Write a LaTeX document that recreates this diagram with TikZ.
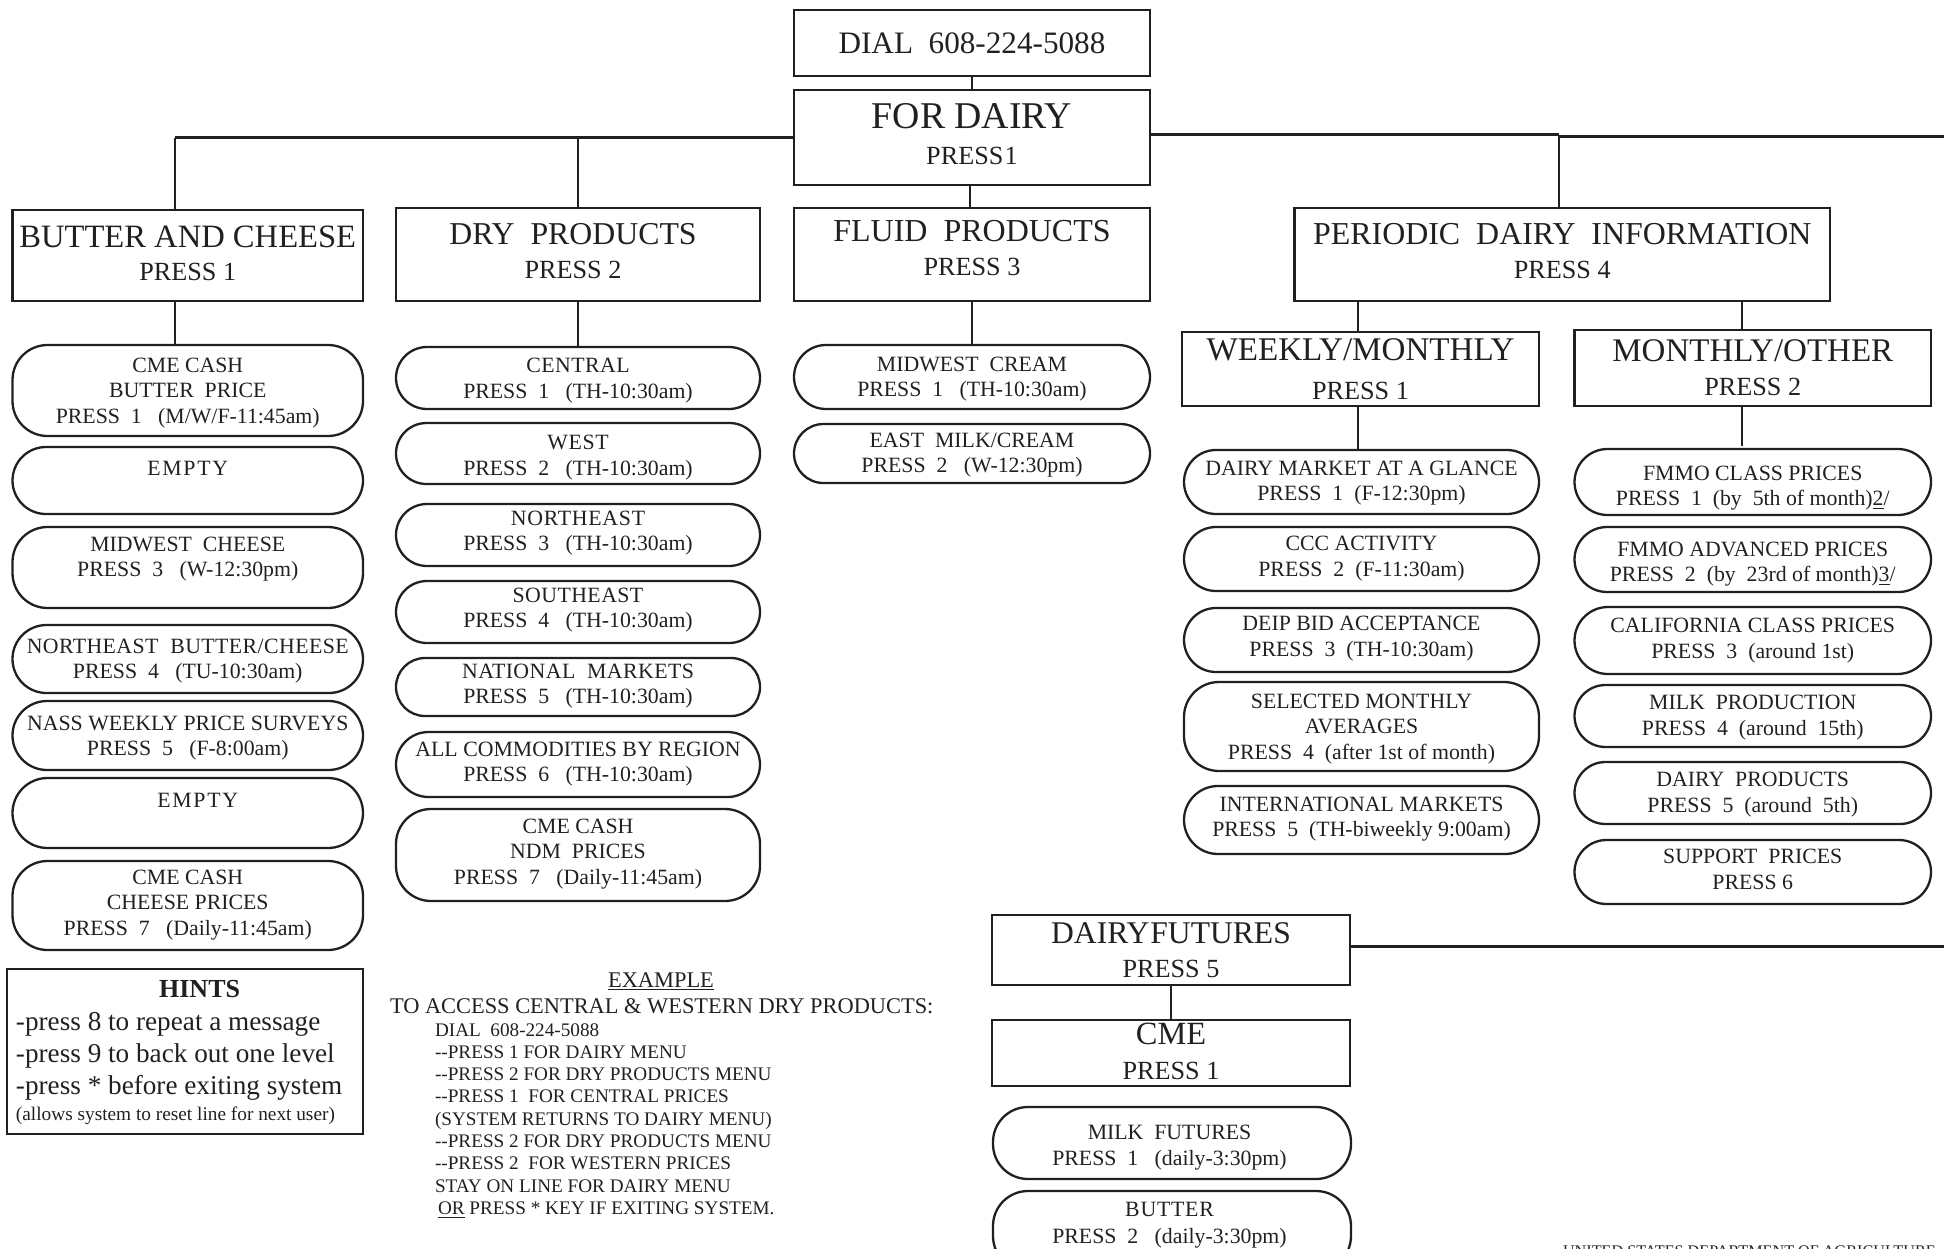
\documentclass[tikz,border=0pt]{standalone}
\usepackage{fontspec}
\setmainfont{Liberation Serif}
\usepackage{array}
\definecolor{ink}{HTML}{231F20}
\newcommand\fs[2]{\fontsize{#1}{#1}\selectfont #2}
\newcommand\pl[1]{\fontsize{#1}{#1}\selectfont}
\newcommand\trk[2]{{\addfontfeature{LetterSpace=#1}#2}}
% style, name, x1, y1, x2, y2, first baseline, leading(pt), text
\newcommand\bx[9]{%
  \pgfmathsetmacro\bxw{(#5-#3)*0.5}%
  \pgfmathsetmacro\bxh{(#6-#4)*0.5}%
  \pgfmathsetmacro\bxr{min(\bxh/2,17.5)}%
  \pgfmathsetmacro\bxcx{(#3+#5)/2+1}%
  \pgfmathsetmacro\bxcy{(#4+#6)/2+1}%
  \pgfmathsetmacro\bxdy{(\bxcy-1-#7)*0.5}%
  \node[#1,minimum width=\bxw pt,minimum height=\bxh pt] (#2) at (\bxcx,\bxcy)
   {\raisebox{\bxdy pt}[0pt][0pt]{\makebox[0pt]{%
     \pgfmathsetlengthmacro\bxa{#8*0.7}\pgfmathsetlengthmacro\bxb{#8*0.3}%
     \setbox\strutbox\hbox{\vrule height \bxa depth \bxb width 0pt}%
     \begin{tabular}[t]{@{}c@{}}#9\end{tabular}}}};%
}
\tikzset{
  x=0.5pt,y=-0.5pt,
  boxed/.style={draw=ink,line width=1.35pt,inner sep=0pt,outer sep=0pt,text=ink,font=\pl{13.1}},
  pill/.style={draw=ink,line width=1.15pt,rounded corners=\bxr pt,inner sep=0pt,outer sep=0pt,text=ink,font=\pl{10.9}},
  conn/.style={draw=ink,line width=1pt},
  trunk/.style={draw=ink,line width=1.3pt},
  free/.style={inner sep=0pt,outer sep=0pt,text=ink},
}
\begin{document}
\begin{tikzpicture}
\useasboundingbox (0,0) rectangle (1944,1248);
\clip (0,0) rectangle (1944,1248);

% top
\bx{boxed}{dial}{793}{9}{1149}{75}{52}{16}{\fs{15.6}{DIAL~~608-224-5088}}
\bx{boxed}{fordairy}{793}{89}{1149}{184}{127}{18}{\fs{18.9}{FOR DAIRY}\\{\spaceskip=.05em PRESS 1}}

% level 1
\bx{boxed}{butter}{11.5}{209}{362}{300}{246}{16.5}{\fs{16.3}{BUTTER AND CHEESE}\\PRESS 1}
\bx{boxed}{dry}{395}{207}{759}{300}{243}{17}{\fs{15.9}{DRY~~PRODUCTS}\hspace*{5pt}\\PRESS 2\hspace*{5pt}}
\bx{boxed}{fluid}{793}{207}{1149}{300}{240}{17}{\fs{16}{FLUID~~PRODUCTS}\\PRESS 3}
\bx{boxed}{periodic}{1293.5}{207}{1829}{300}{243}{17}{\fs{15.96}{PERIODIC~~DAIRY~~INFORMATION}\\PRESS 4}
\bx{boxed}{weekly}{1181}{331}{1538}{405}{359}{19.5}{\fs{16.55}{WEEKLY/MONTHLY}\\PRESS 1}
\bx{boxed}{monthly}{1573.5}{329}{1930}{405}{360}{17}{\fs{16.5}{MONTHLY/OTHER}\\PRESS 2}
\bx{boxed}{futures}{991}{914}{1349}{984}{942}{17}{\fs{15.8}{{\spaceskip=.03em DAIRY FUTURES}}\\PRESS 5}
\bx{boxed}{cme}{991}{1019}{1349}{1085}{1043}{17.5}{\fs{16.2}{CME}\\PRESS 1}

% butter and cheese
\bx{pill}{b1}{11.5}{344}{362}{435}{371}{12.8}{CME CASH\\BUTTER~~PRICE\\PRESS~~1~~~(M/W/F-11:45am)}
\bx{pill}{b2}{11.5}{446}{362}{513}{474}{12.8}{\trk{8}{EMPTY}}
\bx{pill}{b3}{11.5}{526}{362}{607}{550}{12.8}{MIDWEST~~CHEESE\\PRESS~~3~~~(W-12:30pm)}
\bx{pill}{b4}{11.5}{624}{362}{692}{652}{12.8}{\trk{2}{NORTHEAST~~BUTTER/CHEESE}\\PRESS~~4~~~(TU-10:30am)}
\bx{pill}{b5}{11.5}{700}{362}{769}{729}{12.8}{NASS WEEKLY PRICE SURVEYS\\PRESS~~5~~~(F-8:00am)}
\bx{pill}{b6}{11.5}{777}{362}{847}{806}{12.8}{\hspace*{10pt}\trk{8}{EMPTY}}
\bx{pill}{b7}{11.5}{860}{362}{949}{883}{12.8}{CME CASH\\CHEESE PRICES\\PRESS~~7~~~(Daily-11:45am)}

% dry products
\bx{pill}{d1}{395}{346}{759}{408}{371}{13}{\trk{2}{CENTRAL}\\PRESS~~1~~~(TH-10:30am)}
\bx{pill}{d2}{395}{422}{759}{483}{448}{13}{\trk{3}{WEST}\\PRESS~~2~~~(TH-10:30am)}
\bx{pill}{d3}{395}{503}{759}{565}{524}{12.8}{\trk{3.5}{NORTHEAST}\\PRESS~~3~~~(TH-10:30am)}
\bx{pill}{d4}{395}{580}{759}{642}{601}{12.8}{\trk{2}{SOUTHEAST}\\PRESS~~4~~~(TH-10:30am)}
\bx{pill}{d5}{395}{657}{759}{715}{677}{12.8}{\trk{2}{NATIONAL~~MARKETS}\\PRESS~~5~~~(TH-10:30am)}
\bx{pill}{d6}{395}{731}{759}{796}{755}{12.8}{ALL COMMODITIES BY REGION\\PRESS~~6~~~(TH-10:30am)}
\bx{pill}{d7}{395}{808}{759}{900}{832}{12.8}{CME CASH\\NDM~~PRICES\\PRESS~~7~~~(Daily-11:45am)}

% fluid products
\bx{pill}{f1}{793}{344}{1149}{408}{370}{12.6}{MIDWEST~~CREAM\\PRESS~~1~~~(TH-10:30am)}
\bx{pill}{f2}{793}{423}{1149}{482}{446}{12.8}{EAST~~MILK/CREAM\\PRESS~~2~~~(W-12:30pm)}

% weekly / monthly
\bx{pill}{w1}{1183}{449}{1538}{513}{474}{12.6}{DAIRY MARKET AT A GLANCE\\PRESS~~1~~(F-12:30pm)}
\bx{pill}{w2}{1183}{526}{1538}{590}{549}{13.2}{CCC ACTIVITY\\PRESS~~2~~(F-11:30am)}
\bx{pill}{w3}{1183}{607}{1538}{671}{629}{13.2}{DEIP BID ACCEPTANCE\\PRESS~~3~~(TH-10:30am)}
\bx{pill}{w4}{1183}{681}{1538}{770}{707}{12.8}{SELECTED MONTHLY\\AVERAGES\\PRESS~~4~~(after 1st of month)}
\bx{pill}{w5}{1183}{785}{1538}{853}{810}{12.8}{INTERNATIONAL MARKETS\\PRESS~~5~~(TH-biweekly 9:00am)}

% monthly / other
\bx{pill}{m1}{1573.5}{448}{1930}{514}{479}{12.8}{FMMO CLASS PRICES\\PRESS~~1~~(by~~5th~of~month)\underline{2}/}
\bx{pill}{m2}{1573.5}{526}{1930}{591}{555}{12.6}{FMMO ADVANCED PRICES\\PRESS~~2~~(by~~23rd~of~month)\underline{3}/}
\bx{pill}{m3}{1573.5}{606}{1930}{673}{631}{13}{CALIFORNIA CLASS PRICES\\PRESS~~3~~(around 1st)}
\bx{pill}{m4}{1573.5}{684}{1930}{746}{708}{13}{MILK~~PRODUCTION\\PRESS~~4~~(around~~15th)}
\bx{pill}{m5}{1573.5}{761}{1930}{823}{785}{13}{DAIRY~~PRODUCTS\\PRESS~~5~~(around~~5th)}
\bx{pill}{m6}{1573.5}{839}{1930}{903}{862}{13}{SUPPORT~~PRICES\\PRESS~6}

% futures
\bx{pill}{c1}{992}{1106}{1350}{1178}{1138}{13}{MILK~~FUTURES\hspace*{2.5pt}\\PRESS~~1~~~(daily-3:30pm)\hspace*{2.5pt}}
\bx{pill}{c2}{992}{1190}{1350}{1270}{1215}{13.5}{\trk{3.5}{BUTTER}\hspace*{2.5pt}\\PRESS~~2~~~(daily-3:30pm)\hspace*{2.5pt}}

% hints
\bx{boxed}{hints}{6}{968}{362}{1133}{996}{16}{\hspace*{14.6pt}\fs{13}{\bfseries HINTS}}
\node[free,anchor=base west,font=\fontsize{13.6}{16}\selectfont] (hintlines) at (16,1030)
  {\begin{tabular}[t]{@{}l@{}}-press 8 to repeat a message\\-press 9 to back out one level\\-press * before exiting system\end{tabular}};
\node[free,anchor=base west,font=\fontsize{9.65}{12}\selectfont] (hintnote) at (16,1120)
  {(allows system to reset line for next user)};

% example
\node[free,anchor=base,font=\fontsize{11.2}{13}\selectfont] (extitle) at (661,987) {\underline{EXAMPLE}};
\node[free,anchor=base west,font=\fontsize{11.2}{13}\selectfont] (exhead) at (390,1013)
  {TO ACCESS CENTRAL \& WESTERN DRY PRODUCTS:};
\node[free,anchor=base west,font=\fontsize{9.6}{11.16}\selectfont] (exsteps) at (435,1036)
  {\begin{tabular}[t]{@{}l@{}}DIAL~~608-224-5088\\-{}-PRESS 1 FOR DAIRY MENU\\-{}-PRESS 2 FOR DRY PRODUCTS MENU\\-{}-PRESS 1~~FOR CENTRAL PRICES\\(SYSTEM RETURNS TO DAIRY MENU)\\-{}-PRESS 2 FOR DRY PRODUCTS MENU\\-{}-PRESS 2~~FOR WESTERN PRICES\\STAY ON LINE FOR DAIRY MENU\\\hspace*{1.5pt}\underline{OR} PRESS * KEY IF EXITING SYSTEM.\end{tabular}};

% footer, cut by the page edge as in the source
\node[free,anchor=base west,font=\fontsize{8.1}{10}\selectfont] (usda) at (1563,1256) {UNITED STATES DEPARTMENT OF AGRICULTURE};

% connector guide coordinates
\coordinate (xb) at (175,0);
\coordinate (xw) at (1358,0);
\coordinate (xm) at (1742,0);
\coordinate (xp) at (1559,0);
\coordinate (trunkr) at (1559,134.5);
\coordinate (edgea) at (1944,136.5);
\coordinate (edgeb) at (1944,946.5);
\coordinate (jump) at (1559,136.5);

% connectors
\draw[conn] (dial) -- (fordairy);
\draw[trunk] (fordairy.west) -- (fordairy.west -| xb);
\draw[conn] (fordairy.west -| xb) -- (butter.north -| xb);
\draw[conn] (dry.north) -- (dry.north |- fordairy.west);
\draw[conn] ([xshift=-1pt]fordairy.south) -- ([xshift=-1pt]fluid.north);
\draw[trunk] (fordairy.east |- trunkr) -- (trunkr);
\draw[trunk] (jump) -- (edgea);
\draw[conn] (trunkr) -- (periodic.north -| xp);
\draw[conn] (butter.south -| xb) -- (b1.north -| xb);
\draw[conn] (dry.south) -- (d1.north);
\draw[conn] (fluid.south) -- (f1.north);
\draw[conn] (periodic.south -| xw) -- (weekly.north -| xw);
\draw[conn] (periodic.south -| xm) -- (monthly.north -| xm);
\draw[conn] (weekly.south -| xw) -- (w1.north -| xw);
\draw[conn,shorten >=1.5pt] (monthly.south -| xm) -- (m1.north -| xm);
\draw[trunk] (futures.east |- edgeb) -- (edgeb);
\draw[conn] (futures) -- (cme);
\end{tikzpicture}
\end{document}
